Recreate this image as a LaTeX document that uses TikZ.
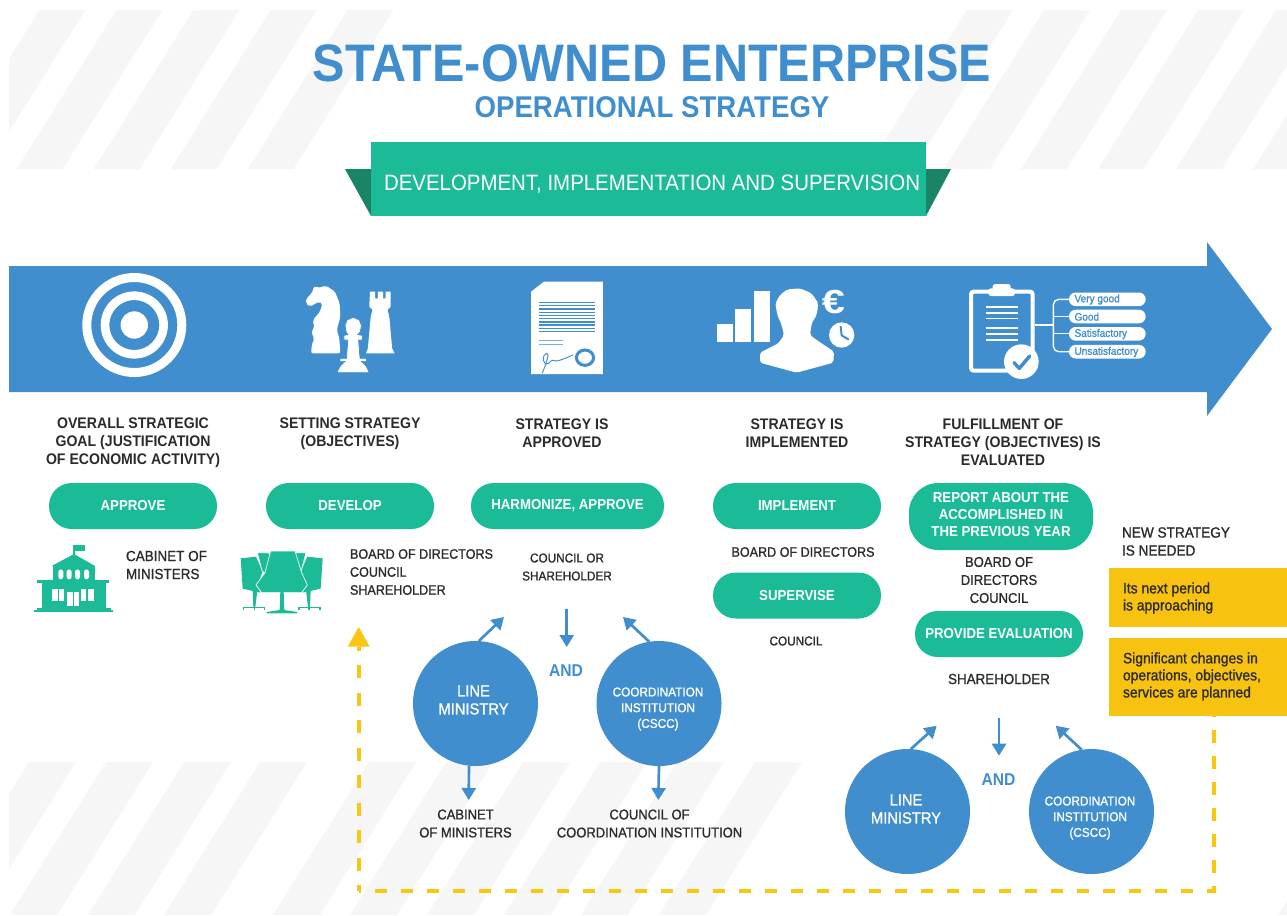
\documentclass[tikz,border=0pt]{standalone}
\usepackage{fontspec}
\setmainfont[FakeStretch=0.92]{Liberation Sans}
\newfontfamily\medfont[FakeStretch=0.92,FakeBold=1.1]{Liberation Sans}
\usetikzlibrary{arrows.meta,shapes.geometric}
\definecolor{sblue}{HTML}{408ECD}
\definecolor{sgreen}{HTML}{1CBB98}
\definecolor{sdark}{HTML}{1A8468}
\definecolor{syellow}{HTML}{F7C210}
\definecolor{sdash}{HTML}{F9C610}
\definecolor{sstripe}{HTML}{F6F6F6}
\definecolor{stext}{HTML}{2B2B2B}
\newcommand{\lfont}[1]{\medfont\fontsize{#1pt}{13.5pt}\selectfont}
\tikzset{
  x=0.75pt,y=-0.75pt,
  txt/.style={inner sep=0,outer sep=0,align=center,text=stext},
  heading/.style={txt,font=\bfseries\fontsize{11.5pt}{13.5pt}\selectfont},
  lbl/.style={txt,font=\lfont{10.6}},
  lblleft/.style={lbl,align=left,anchor=west},
  pill/.style={fill=sgreen,rounded corners=17pt,minimum height=34.5pt,inner sep=0,outer sep=0,text=white,align=center,font=\bfseries\fontsize{10.8pt}{12.8pt}\selectfont},
  disc/.style={circle,fill=sblue,minimum size=93.75pt,inner sep=0,outer sep=0},
  disctxt/.style={txt,text=white,font=\medfont\fontsize{12pt}{13.5pt}\selectfont},
  disctxtsmall/.style={txt,text=white,font=\medfont\fontsize{9.6pt}{11.8pt}\selectfont},
  andtxt/.style={txt,text=sblue,font=\bfseries\fontsize{12.8pt}{15pt}\selectfont},
  ybox/.style={fill=syellow,inner sep=0,outer sep=0,minimum width=133.5pt},
  ytxt/.style={txt,align=left,anchor=west,font=\medfont\fontsize{11.3pt}{12.8pt}\selectfont},
  barrow/.style={draw=sblue,line width=2pt,-{Triangle[length=9pt,width=10.5pt]}},
  rate/.style={fill=white,rounded corners=5pt,inner sep=0,outer sep=0,minimum width=57.5pt,minimum height=10.2pt},
  ratetxt/.style={inner sep=0,outer sep=0,text=sblue,anchor=west,font=\medfont\fontsize{8.2pt}{9pt}\selectfont},
  dashline/.style={sdash,line width=3pt},
}
\begin{document}
\begin{tikzpicture}
\useasboundingbox (0,0) rectangle (1287,915);
% background stripes
\begin{scope}
  \clip (9,10) rectangle (640,169);
  \foreach \t in {39.6,116.6,193.6,270.6,347.6}
    \fill[sstripe] (\t,10) -- ++(46,0) -- ++(-100,159) -- ++(-46,0) -- cycle;
\end{scope}
\begin{scope}
  \clip (640,10) rectangle (1287,169);
  \foreach \t in {967,1044,1121,1198,1276,1353}
    \fill[sstripe] (\t,10) -- ++(46,0) -- ++(-100,159) -- ++(-46,0) -- cycle;
\end{scope}
\begin{scope}
  \clip (9,762) rectangle (1287,915);
  \foreach \t in {29,106,184,260,369,446,523,600,677,755,1374}
    \fill[sstripe] (\t,762) -- ++(47,0) -- ++(-96,153) -- ++(-47,0) -- cycle;
\end{scope}
% title
\node[inner sep=0,text=sblue,font=\bfseries\fontsize{39.6pt}{44pt}\selectfont] (title) at (652,63) {STATE-OWNED ENTERPRISE};
\node[inner sep=0,text=sblue,font=\bfseries\fontsize{22.5pt}{26pt}\selectfont] (subtitle) at (652,107) {OPERATIONAL STRATEGY};
% banner
\fill[sdark] (345,169) -- (371,169) -- (371,216) -- cycle;
\fill[sdark] (926,169) -- (951,169) -- (926,216) -- cycle;
\node[fill=sgreen,minimum width=416.25pt,minimum height=55.5pt,inner sep=0] (banner) at (648.5,179) {};
\node[inner sep=0,text=white,font=\fontsize{16.66pt}{20pt}\selectfont] (bannertxt) at (652,184) {DEVELOPMENT, IMPLEMENTATION AND SUPERVISION};
% big arrow
\fill[sblue] (9,266) -- (1207,266) -- (1207,242) -- (1272,329) -- (1207,416) -- (1207,392) -- (9,392) -- cycle;
% target icon
\fill[white,even odd rule] (134.3,325) circle[radius=52] circle[radius=43] circle[radius=33.6] circle[radius=25] circle[radius=13.7];
% chess icon (reference crop coordinates)
\begin{scope}[shift={(60,260)},xscale=0.35714,yscale=0.33333]
  \fill[white,rounded corners=1.5pt] (703,280) -- (705,255) -- (712,235) -- (703,215) -- (712,205) -- (708,180) -- (728,155) -- (735,130) -- (725,125) -- (700,140) -- (688,130) -- (690,115) -- (705,100) -- (712,78) -- (722,84) -- (745,77) -- (770,95) -- (783,130) -- (785,170) -- (775,210) -- (782,235) -- (785,280) -- cycle;
  \fill[white] (857,280) -- (862,265) -- (870,170) -- (875,150) -- (866,140) -- (868,95) -- (882,95) -- (882,115) -- (890,115) -- (890,95) -- (905,95) -- (905,115) -- (912,115) -- (912,95) -- (926,95) -- (926,140) -- (917,150) -- (922,170) -- (930,265) -- (937,280) -- cycle;
  \filldraw[white,draw=sblue,line width=0.5pt] (775,338) -- (785,318) -- (798,304) -- (784,304) -- (784,295) -- (802,295) -- (806,240) -- (795,240) -- (795,226) -- (806,224) -- (801,215) -- (798,196) -- (804,180) -- (821,172) -- (838,180) -- (844,196) -- (841,215) -- (834,224) -- (846,226) -- (846,240) -- (836,240) -- (840,295) -- (858,295) -- (858,304) -- (844,304) -- (857,318) -- (866,338) -- cycle;
\end{scope}
% document icon
\begin{scope}[shift={(60,260)},xscale=0.35714,yscale=0.33333]
  \fill[white] (1319,95) -- (1355,65) -- (1520,65) -- (1520,342) -- (1319,342) -- cycle;
  \foreach \y in {127,137,147,157,166,176,186,195,205,215}
    \draw[sblue,line width=0.8pt] (1340,\y) -- (1498,\y);
  \foreach \y in {241,253}
    \draw[sblue!70,line width=0.8pt] (1340,\y) -- (1408,\y);
  \draw[sblue,line width=0.7pt] (1350,340) .. controls (1362,310) and (1372,278) .. (1362,280) .. controls (1348,285) and (1350,318) .. (1368,310) .. controls (1385,290) and (1382,308) .. (1395,302) .. controls (1410,298) and (1420,292) .. (1436,285);
  \draw[sblue,line width=2.3pt] (1470,293) circle[x radius=24,y radius=23];
\end{scope}
% implementer icon
\begin{scope}[shift={(700,260)},scale=0.33333]
  \fill[white] (51,192) rectangle (99,246);
  \fill[white] (105,147) rectangle (153,246);
  \fill[white] (162,93) rectangle (210,246);
  \fill[white,rounded corners=1.5pt] (262,88) -- (300,85) -- (335,100) -- (355,130) -- (350,165) -- (335,190) -- (330,225) -- (350,240) -- (402,275) -- (400,308) -- (290,338) -- (180,308) -- (180,278) -- (235,250) -- (252,225) -- (245,195) -- (232,165) -- (226,130) -- (240,105) -- cycle;
  \fill[white] (425,225) circle[radius=38];
  \draw[sblue,line width=1.5pt,line cap=round] (422,200) -- (425,226) -- (445,238);
\end{scope}
\node[inner sep=0,text=white,font=\bfseries\fontsize{25pt}{26pt}\selectfont] (euro) at (833.3,301.7) {\scalebox{1.35}[1]{€}};
% evaluation icon
\begin{scope}[shift={(700,260)},scale=0.33333]
  \draw[white,line width=3pt,rounded corners=2pt] (813,95) rectangle (998,332);
  \fill[white,rounded corners=2pt] (865,85) rectangle (945,108);
  \fill[white,rounded corners=2pt] (878,72) rectangle (932,92);
  \foreach \y in {141,159,176,204,222,240}
    \draw[white,line width=1pt] (857,\y) -- (955,\y);
  \fill[white] (964,305) circle[radius=52];
  \draw[sblue,line width=2.6pt,line cap=round,line join=round] (942,308) -- (958,325) -- (989,288);
  \draw[white,line width=1pt,rounded corners=4pt] (1107,118) -- (1060,118) -- (1060,275) -- (1107,275);
  \draw[white,line width=1pt] (1004,195) -- (1060,195);
  \draw[white,line width=1pt] (1060,170) -- (1107,170);
  \draw[white,line width=1pt] (1060,221) -- (1107,221);
\end{scope}
\node[rate] (r1) at (1107.3,299.3) {};
\node[rate] (r2) at (1107.3,316.5) {};
\node[rate] (r3) at (1107.3,333.8) {};
\node[rate] (r4) at (1107.3,351.7) {};
\node[ratetxt] (r1t) at (1074.5,299.5) {Very good};
\node[ratetxt] (r2t) at (1074.5,316.7) {Good};
\node[ratetxt] (r3t) at (1074.5,334) {Satisfactory};
\node[ratetxt] (r4t) at (1074.5,352) {Unsatisfactory};
% column headings
\node[heading] (h1) at (133,442.5) {OVERALL STRATEGIC\\GOAL (JUSTIFICATION\\OF ECONOMIC ACTIVITY)};
\node[heading] (h2) at (350,433.5) {SETTING STRATEGY\\(OBJECTIVES)};
\node[heading] (h3) at (562,433.5) {STRATEGY IS\\APPROVED};
\node[heading] (h4) at (797,433.5) {STRATEGY IS\\IMPLEMENTED};
\node[heading] (h5) at (1003,442.5) {FULFILLMENT OF\\STRATEGY (OBJECTIVES) IS\\EVALUATED};
% pills
\node[pill,minimum width=126pt] (p1) at (133,506) {APPROVE};
\node[pill,minimum width=126pt] (p2) at (350,506) {DEVELOP};
\node[pill,minimum width=144.75pt] (p3) at (567.5,506) {HARMONIZE, APPROVE};
\node[pill,minimum width=126pt] (p4) at (797,506) {IMPLEMENT};
\node[pill,minimum width=138pt,minimum height=50.25pt,rounded corners=22pt] (p5) at (1001,516.5) {};
\node[txt,text=white,font=\bfseries\fontsize{10.8pt}{12.8pt}\selectfont] (p5t) at (1001,514.5) {REPORT ABOUT THE\\ACCOMPLISHED IN\\THE PREVIOUS YEAR};
\node[pill,minimum width=126pt] (p6) at (797,595.5) {SUPERVISE};
\node[pill,minimum width=126pt] (p7) at (999,634) {PROVIDE EVALUATION};
% building icon
\begin{scope}[shift={(20,530)},scale=0.33333]
  \fill[sgreen] (159,45) rectangle (196,62);
  \fill[sgreen] (160,45) rectangle (165,75);
  \fill[sgreen] (95,108) -- (162,72) -- (225,108) -- cycle;
  \fill[sgreen] (98,108) rectangle (225,150);
  \fill[sgreen] (52,150) rectangle (268,160);
  \fill[sgreen] (65,160) rectangle (258,235);
  \fill[sgreen] (50,235) rectangle (272,240);
  \fill[sgreen] (43,240) rectangle (278,247);
  \foreach \x in {115,140,165,192}
    \fill[white,rounded corners=2pt] (\x,148) -- (\x,118) -- (\x+15,118) -- (\x+15,148) -- cycle;
  \foreach \x/\w in {97/16,118/15,183/16,205/16}
    \fill[white] (\x,178) rectangle (\x+\w,213);
  \fill[white] (140,185) rectangle (160,228);
  \fill[white] (162,185) rectangle (177,228);
\end{scope}
% boardroom icon
\begin{scope}[shift={(20,530)},scale=0.33333]
  \foreach \m in {0,1}{
    \begin{scope}[shift={(\m*1570,0)},xscale={1-2*\m}]
      \fill[sgreen] (662,85) -- (708,80) -- (728,125) -- (712,165) -- (722,188) -- (668,176) -- cycle;
      \filldraw[sgreen,draw=white,line width=0.5pt] (712,68) -- (745,68) -- (760,90) -- (740,135) -- (726,122) -- (720,98) -- cycle;
      \fill[sgreen] (698,180) -- (712,180) -- (706,232) -- (700,232) -- cycle;
      \fill[sgreen] (668,232) -- (735,232) -- (735,235) -- (668,235) -- cycle;
      \fill[sgreen] (668,235) rectangle (672,240);
      \fill[sgreen] (701,235) rectangle (705,240);
      \fill[sgreen] (731,235) rectangle (735,240);
    \end{scope}
  }
  \filldraw[sgreen,draw=white,line width=0.5pt] (752,63) -- (825,63) -- (845,128) -- (862,165) -- (845,188) -- (725,188) -- (708,165) -- (735,128) -- cycle;
  \fill[sgreen] (781,185) -- (791,185) -- (793,240) -- (779,240) -- cycle;
  \fill[sgreen] (779,240) -- (793,240) -- (832,246) -- (832,250) -- (740,250) -- (740,246) -- cycle;
\end{scope}
% actor labels
\node[lblleft,font=\lfont{11}] (a1) at (126,565) {CABINET OF\\MINISTERS};
\node[lblleft,font=\lfont{10.25}] (a2) at (350,572) {BOARD OF DIRECTORS\\COUNCIL\\SHAREHOLDER};
\node[lbl,font=\lfont{9.6}] (a3) at (567,567) {COUNCIL OR\\SHAREHOLDER};
\node[lbl,font=\lfont{10.25}] (a4) at (803,552) {BOARD OF DIRECTORS};
\node[lbl,font=\lfont{9.6}] (a5) at (796,641) {COUNCIL};
\node[lbl] (a6) at (999,580) {BOARD OF\\DIRECTORS\\COUNCIL};
\node[lbl,font=\lfont{10.9}] (a7) at (999,679) {SHAREHOLDER};
\node[lblleft,font=\lfont{11.1}] (a8) at (1122,541.5) {NEW STRATEGY\\IS NEEDED};
\node[lbl] (a9) at (465.5,823.5) {CABINET\\OF MINISTERS};
\node[lbl] (a10) at (649.5,823.5) {COUNCIL OF\\COORDINATION INSTITUTION};
% yellow boxes
\node[ybox,minimum height=44.25pt] (y1) at (1198,597.5) {};
\node[ybox,minimum height=58.5pt] (y2) at (1198,677) {};
\node[ytxt] (y1t) at (1123,598) {Its next period\\is approaching};
\node[ytxt] (y2t) at (1123,676.5) {Significant changes in\\operations, objectives,\\services are planned};
% discs
\node[disc] (lm1) at (475.5,703.5) {};
\node[disc] (ci1) at (659,703.5) {};
\node[disc] (lm2) at (907.5,811.5) {};
\node[disc] (ci2) at (1091.5,811.5) {};
\node[disctxt] (lm1t) at (473.5,700) {LINE\\MINISTRY};
\node[disctxt] (lm2t) at (906,809) {LINE\\MINISTRY};
\node[disctxtsmall] (ci1t) at (658,709) {COORDINATION\\INSTITUTION\\(CSCC)};
\node[disctxtsmall] (ci2t) at (1090,818) {COORDINATION\\INSTITUTION\\(CSCC)};
\node[andtxt] (and1) at (566,671) {AND};
\node[andtxt] (and2) at (998.5,780) {AND};
% arrow ends
\coordinate (u1) at (504,617);
\coordinate (u2) at (623,617);
\coordinate (d0a) at (566.7,609);
\coordinate (d0b) at (566.7,647);
\coordinate (d1) at (468.7,800);
\coordinate (d2) at (658.3,800);
\coordinate (u3) at (936.7,725.7);
\coordinate (u4) at (1055.7,725.7);
\coordinate (d3a) at (999,718.3);
\coordinate (d3b) at (999,755.7);
\draw[barrow] (lm1.87) -- (u1);
\draw[barrow] (ci1.99) -- (u2);
\draw[barrow] (d0a) -- (d0b);
\draw[barrow] (lm1.264) -- (d1);
\draw[barrow] (ci1.south) -- (d2);
\draw[barrow] (lm2.87) -- (u3);
\draw[barrow] (ci2.99) -- (u4);
\draw[barrow] (d3a) -- (d3b);
% dashed return loop
\coordinate (dstart) at (1214.3,716);
\coordinate (dcorner1) at (1214.3,891);
\coordinate (dcorner2) at (358.7,891);
\coordinate (dbase) at (358.7,646.7);
\coordinate (dtip) at (358.7,627);
\draw[dashline,dash pattern=on 9.4pt off 10.1pt,dash phase=8.8pt] (dstart) -- (dcorner1) -- (dcorner2);
\draw[dashline,dash pattern=on 9.75pt off 10.875pt,dash phase=5.25pt] (dcorner2) -- (dbase);
\fill[sdash] (dtip) -- (369.7,646.7) -- (347.7,646.7) -- cycle;
\end{tikzpicture}
\end{document}
